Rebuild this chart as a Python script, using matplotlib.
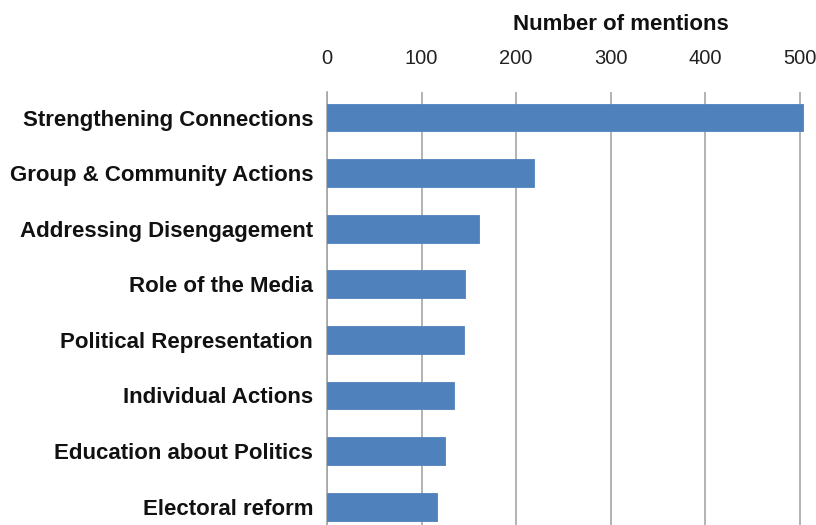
import matplotlib
matplotlib.use("Agg")
import matplotlib.pyplot as plt

categories = ["Strengthening Connections", "Group & Community Actions",
              "Addressing Disengagement", "Role of the Media",
              "Political Representation", "Individual Actions",
              "Education about Politics", "Electoral reform"]
values = [504, 219, 161, 146, 145, 134, 125, 116]
xticks = [0, 100, 200, 300, 400, 500]

plt.rcParams['font.family'] = ['Liberation Sans', 'DejaVu Sans']

W, H = 816, 525
fig = plt.figure(figsize=(W / 100, H / 100), dpi=100)
left_px, top_px, right_px = 327, 92, 809
ax = fig.add_axes([left_px / W, 0, (right_px - left_px) / W, (H - top_px) / H])

ypos = list(range(len(categories)))
ax.barh(ypos, values, height=0.5, color='#4F81BD', edgecolor='#4F81BD',
        linewidth=0.6, zorder=3)
ax.set_xlim(0, 510)
ax.set_ylim(7.33, -0.46)
ax.set_yticks(ypos)
ax.set_yticklabels(categories, fontsize=16, fontweight='bold', color='#111111')
ax.set_xticks(xticks)
ax.set_xticklabels([str(t) for t in xticks], fontsize=14.5, color='#222222')
ax.xaxis.tick_top()
ax.tick_params(axis='x', length=0, pad=17)
ax.tick_params(axis='y', length=0, pad=10)
ax.grid(axis='x', color='#a6a6a6', linewidth=1.2, zorder=0)
ax.set_axisbelow(True)
for s in ['top', 'right', 'bottom']:
    ax.spines[s].set_visible(False)
ax.spines['left'].set_color('#a6a6a6')
ax.spines['left'].set_linewidth(1.2)

fig.text(621 / W, 1 - 25 / H, "Number of mentions", ha='center', va='center',
         fontsize=16, fontweight='bold', color='#111111')

fig.savefig("out.png", dpi=100)
